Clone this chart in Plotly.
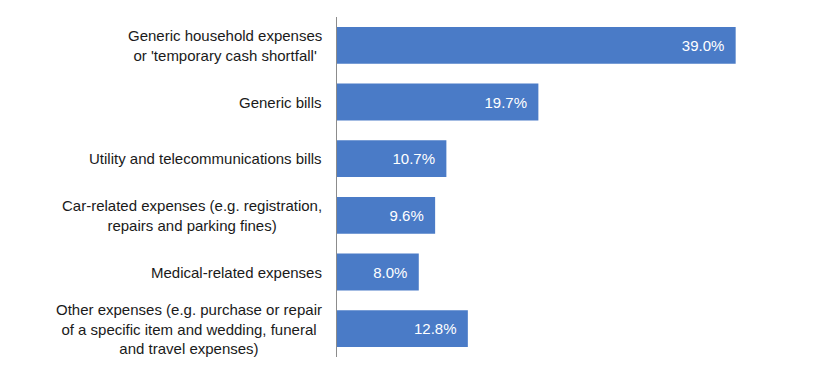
import plotly.graph_objects as go

categories = [
    "Generic household expenses<br>or 'temporary cash shortfall'",
    "Generic bills",
    "Utility and telecommunications bills",
    "Car-related expenses (e.g. registration,<br>repairs and parking fines)",
    "Medical-related expenses",
    "Other expenses (e.g. purchase or repair<br>of a specific item and wedding, funeral<br>and travel expenses)",
]
values = [39.0, 19.7, 10.7, 9.6, 8.0, 12.8]

FONT = "Liberation Sans, Arial, sans-serif"
ys = list(range(len(categories)))

fig = go.Figure()
fig.add_trace(go.Bar(
    x=values,
    y=ys,
    orientation="h",
    width=0.65,
    marker=dict(color="#4A7BC7", line=dict(width=0)),
    text=[f"{v:.1f}%\u00a0\u00a0" for v in values],
    textposition="inside",
    insidetextanchor="end",
    textfont=dict(family=FONT, size=15, color="white"),
    hoverinfo="skip",
))

for y, c in zip(ys, categories):
    fig.add_annotation(
        x=0, xref="paper", y=y, yref="y",
        text=c, showarrow=False,
        xanchor="right", yanchor="middle", align="center",
        xshift=-13,
        font=dict(family=FONT, size=15, color="#1a1a1a"),
    )

fig.update_layout(
    width=831, height=383,
    margin=dict(l=337, r=34, t=17, b=26),
    paper_bgcolor="white", plot_bgcolor="white",
    showlegend=False,
    xaxis=dict(range=[0, 45], showgrid=False, zeroline=False,
               showticklabels=False, ticks="", showline=False),
    yaxis=dict(range=[5.5, -0.5], showgrid=False, zeroline=False,
               showticklabels=False, ticks="", showline=True,
               linecolor="#8c8c8c", linewidth=1),
)

fig.write_html("out.html", config={"displayModeBar": False, "staticPlot": True},
               post_script="document.body.style.margin='0';document.body.style.overflow='hidden';")
